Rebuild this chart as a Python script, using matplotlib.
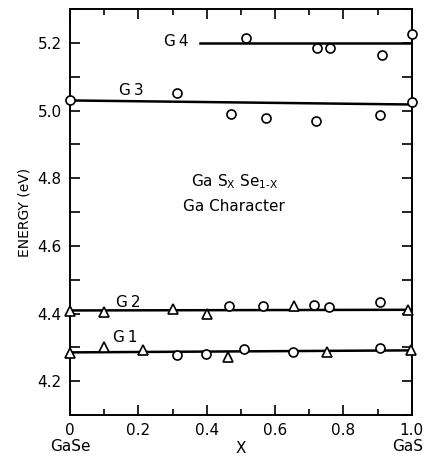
import matplotlib
matplotlib.use('Agg')
import matplotlib.pyplot as plt
from matplotlib.ticker import MultipleLocator

# G4 / G3 (circles)
g4_x = [0.514, 0.723, 0.760, 0.913, 1.0]
g4_y = [5.216, 5.184, 5.184, 5.165, 5.226]
g3_x = [0.0, 0.312, 0.470, 0.572, 0.721, 0.906, 1.0]
g3_y = [5.032, 5.051, 4.990, 4.979, 4.969, 4.988, 5.024]

# G2
g2_tri_x = [0.0, 0.10, 0.30, 0.40, 0.655, 0.99]
g2_tri_y = [4.407, 4.405, 4.412, 4.399, 4.422, 4.410]
g2_circ_x = [0.465, 0.563, 0.715, 0.757, 0.906]
g2_circ_y = [4.422, 4.422, 4.424, 4.418, 4.434]

# G1
g1_tri_x = [0.0, 0.10, 0.213, 0.463, 0.752, 0.997]
g1_tri_y = [4.283, 4.302, 4.293, 4.270, 4.285, 4.291]
g1_circ_x = [0.314, 0.397, 0.51, 0.651, 0.906]
g1_circ_y = [4.276, 4.279, 4.296, 4.286, 4.298]

# fitted lines ([x0, x1], [y0, y1])
fit_lines = {
    'G4': ([0.38, 1.0], [5.200, 5.200]),
    'G3': ([0.0, 1.0], [5.030, 5.018]),
    'G2': ([0.0, 1.0], [4.409, 4.411]),
    'G1': ([0.0, 1.0], [4.285, 4.291]),
}
label_pos = {'G4': (0.31, 5.205), 'G3': (0.18, 5.06), 'G2': (0.17, 4.432), 'G1': (0.16, 4.33)}

fig = plt.figure(figsize=(4.25, 4.57), dpi=100)
ax = fig.add_axes([0.165, 0.092, 0.804, 0.888])

for name, (lx, ly) in fit_lines.items():
    ax.plot(lx, ly, color='black', lw=1.8, zorder=2)
    tx, ty = label_pos[name]
    ax.text(tx, ty, name[0] + '\u2009' + name[1], fontsize=11, ha='center', va='center')

circ = dict(marker='o', ms=6.5, mfc='white', mec='black', mew=1.2, ls='none', zorder=3, clip_on=False)
tri = dict(marker='^', ms=7.5, mfc='white', mec='black', mew=1.2, ls='none', zorder=3, clip_on=False)
ax.plot(g4_x, g4_y, **circ)
ax.plot(g3_x, g3_y, **circ)
ax.plot(g2_circ_x, g2_circ_y, **circ)
ax.plot(g2_tri_x, g2_tri_y, **tri)
ax.plot(g1_circ_x, g1_circ_y, **circ)
ax.plot(g1_tri_x, g1_tri_y, **tri)

ax.text(0.48, 4.79, r'Ga S$_\mathregular{X}$ Se$_\mathregular{1\text{-}X}$', fontsize=11, ha='center', va='center')
ax.text(0.48, 4.715, 'Ga Character', fontsize=11, ha='center', va='center')

ax.set_xlim(0, 1.0)
ax.set_ylim(4.1, 5.3)
ax.xaxis.set_minor_locator(MultipleLocator(0.1))
ax.yaxis.set_minor_locator(MultipleLocator(0.1))
ax.set_xticks([0, 0.2, 0.4, 0.6, 0.8, 1.0])
ax.set_xticklabels(['0', '0.2', '0.4', '0.6', '0.8', '1.0'])
ax.set_yticks([4.2, 4.4, 4.6, 4.8, 5.0, 5.2])
ax.set_yticklabels(['4.2', '4.4', '4.6', '4.8', '5.0', '5.2'])
ax.tick_params(which='both', direction='in', top=True, right=True, labelsize=11, width=1.2)
ax.tick_params(which='major', length=7, pad=6)
ax.tick_params(axis='x', which='minor', length=4)
ax.tick_params(axis='y', which='minor', length=7)
for s in ax.spines.values():
    s.set_linewidth(1.4)

ax.set_ylabel('ENERGY (eV)', fontsize=10, labelpad=4)
ax.set_xlabel('X', fontsize=11, labelpad=2)
fig.text(0.165, 0.022, 'GaSe', fontsize=11, ha='center', va='center')
fig.text(0.995, 0.022, 'GaS', fontsize=11, ha='right', va='center')

fig.savefig('out.png', dpi=100)
